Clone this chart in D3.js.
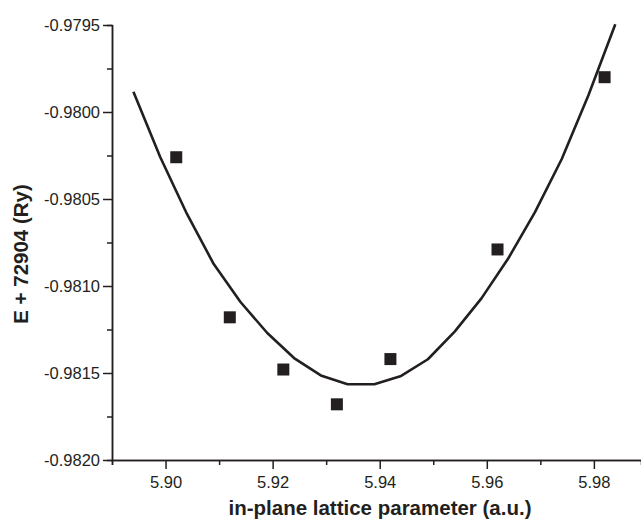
<!DOCTYPE html>
<html>
<head>
<meta charset="utf-8">
<script src="https://cdn.jsdelivr.net/npm/d3@7"></script>
<style>
  body { margin: 0; background: #fff; }
  svg text { font-family: "Liberation Sans", Arial, sans-serif; fill: #231f20; }
</style>
</head>
<body>
<svg id="chart" width="641" height="519"></svg>
<script>
	// computed points (lattice parameter, energy)
	var point_x = [5.902, 5.912, 5.922, 5.932, 5.942, 5.962, 5.982];
	var point_y = [-0.98026, -0.98118, -0.98148, -0.98168, -0.98142, -0.98079, -0.97980];

	// fitted curve
	var fit_x = [5.894, 5.899, 5.904, 5.909, 5.914, 5.919, 5.924, 5.929, 5.934, 5.939,
		5.944, 5.949, 5.954, 5.959, 5.964, 5.969, 5.974, 5.979, 5.984];
	var fit_y = [-0.979883, -0.980259, -0.980586, -0.980874, -0.981092, -0.981270, -0.981414,
		-0.981514, -0.981565, -0.981565, -0.981517, -0.981421, -0.981262, -0.981071,
		-0.980842, -0.980575, -0.980270, -0.979902, -0.979496];

	var x_ticks = [5.90, 5.92, 5.94, 5.96, 5.98];
	var x_minor = [5.89, 5.91, 5.93, 5.95, 5.97];
	var y_ticks = [-0.9795, -0.9800, -0.9805, -0.9810, -0.9815, -0.9820];
	var y_minor = [-0.97975, -0.98025, -0.98075, -0.98125, -0.98175];

	var ink = '#231f20';
	var svg = d3.select('#chart');

	var x = d3.scaleLinear().domain([5.89, 5.9888]).range([112, 641]);
	var y = d3.scaleLinear().domain([-0.9820, -0.9795]).range([460, 25]);

	// plain hyphen instead of the unicode minus d3 uses
	function hyphen(fmt) {
		var f = d3.format(fmt);
		return function(d) { return f(d).replace('\u2212', '-'); };
	}

	// minor ticks first, no labels
	svg.append('g')
		.attr('transform', 'translate(0,460)')
		.call(d3.axisBottom(x).tickValues(x_minor).tickSize(5).tickFormat(''));
	svg.append('g')
		.attr('transform', 'translate(112,0)')
		.call(d3.axisLeft(y).tickValues(y_minor).tickSize(5).tickFormat(''));

	var x_axis = svg.append('g')
		.attr('transform', 'translate(0,460)')
		.call(d3.axisBottom(x).tickValues(x_ticks).tickSize(9).tickSizeOuter(0)
			.tickFormat(d3.format('.2f')));
	var y_axis = svg.append('g')
		.attr('transform', 'translate(112,0)')
		.call(d3.axisLeft(y).tickValues(y_ticks).tickSize(9).tickSizeOuter(0)
			.tickFormat(hyphen('.4f')));

	svg.selectAll('.domain, .tick line')
		.attr('stroke', ink)
		.attr('stroke-width', 1.5);
	svg.selectAll('.tick text')
		.style('font-size', '16.5px')
		.attr('fill', ink);
	x_axis.selectAll('.tick text').attr('dy', '0.71em').attr('y', 16);
	y_axis.selectAll('.tick text').attr('x', -12);

	// axis titles
	svg.append('text')
		.attr('x', 380)
		.attr('y', 515)
		.attr('text-anchor', 'middle')
		.style('font-size', '20.5px')
		.style('font-weight', 'bold')
		.text('in-plane lattice parameter (a.u.)');

	svg.append('text')
		.attr('transform', 'translate(27.5,254) rotate(-90)')
		.attr('text-anchor', 'middle')
		.style('font-size', '20.5px')
		.style('font-weight', 'bold')
		.text('E + 72904 (Ry)');

	// fit curve
	var line = d3.line()
		.x(function(d) { return x(d[0]); })
		.y(function(d) { return y(d[1]); });

	svg.append('path')
		.datum(d3.zip(fit_x, fit_y))
		.attr('d', line)
		.attr('fill', 'none')
		.attr('stroke', ink)
		.attr('stroke-width', 2.6)
		.attr('stroke-linejoin', 'round');

	// square markers
	var size = 12;
	svg.selectAll('rect.pt')
		.data(d3.zip(point_x, point_y))
		.enter().append('rect')
		.attr('class', 'pt')
		.attr('x', function(d) { return x(d[0]) - size / 2; })
		.attr('y', function(d) { return y(d[1]) - size / 2; })
		.attr('width', size)
		.attr('height', size)
		.attr('fill', ink);
</script>
</body>
</html>
